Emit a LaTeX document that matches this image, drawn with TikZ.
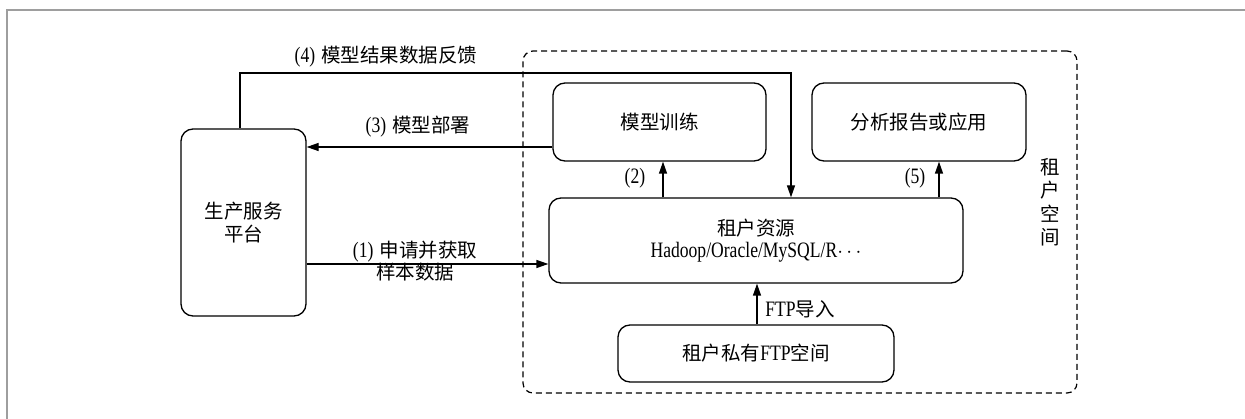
\documentclass[tikz,border=0pt]{standalone}
\usepackage{fontspec}
\setmainfont{Liberation Serif}[FakeStretch=0.8]
\newfontfamily\cjk{Noto Sans CJK SC}
\newcommand{\zh}[1]{{\cjk\fontsize{19.5}{24}\selectfont #1}}
\usetikzlibrary{arrows.meta,calc}
\begin{document}
\begin{tikzpicture}[x=1pt,y=-1pt,
  box/.style={draw,line width=1.3pt,rounded corners=12pt,inner sep=0pt,align=center,
    font=\fontsize{22}{24}\selectfont},
  arr/.style={line width=1.3pt,-{Triangle[length=12pt,width=8pt]}},
  lbl/.style={inner sep=0pt,align=center,font=\fontsize{22}{24}\selectfont}]
\useasboundingbox (0,0) rectangle (1245,419);
% outer gray frame
\draw[line width=2pt,color=black!38] (6.5,419) -- (6.5,10) -- (1245,10);
% tenant space (dashed)
\node[draw,dash pattern=on 6pt off 4pt,line width=1.2pt,rounded corners=10pt,minimum width=554pt,minimum height=342pt,inner sep=0pt] (space) at (800,222) {};
\node[lbl] (spacelbl) at (1050,202) {\zh{租}\\[-0.5pt]\zh{户}\\[-0.5pt]\zh{空}\\[-0.5pt]\zh{间}};
% nodes
\node[box,minimum width=125pt,minimum height=187pt] (plat) at (243.5,222.5) {\zh{生产服务}\\[-1pt]\zh{平台}};
\node[box,minimum width=213pt,minimum height=78pt] (train) at (659.5,122) {\zh{模型训练}};
\node[box,minimum width=214pt,minimum height=78pt] (ana) at (919,122) {\zh{分析报告或应用}};
\node[box,minimum width=414pt,minimum height=85pt] (res) at (756,240.5) {\zh{租户资源}\\[-2pt]Hadoop/Oracle/MySQL/R$\cdots$};
\node[box,minimum width=276pt,minimum height=57pt] (ftp) at (756,353.5) {\zh{租户私有}FTP\zh{空间}};
% connectors
\coordinate (c4) at (791,73);
\draw[arr] ([xshift=-3.5pt]plat.north) |- (c4) -- (c4 |- res.north);
\draw[arr] ([yshift=-25pt]train.west) -- ([yshift=-25pt]train.west -| plat.east);
\draw[arr] ([yshift=-23.5pt]res.west -| plat.east) -- ([yshift=-23.5pt]res.west);
\draw[arr] ([xshift=3.5pt]train.south |- res.north) -- ([xshift=3.5pt]train.south);
\draw[arr] ([xshift=20pt]ana.south |- res.north) -- ([xshift=20pt]ana.south);
\draw[arr] ([xshift=1pt]ftp.north) -- ([xshift=1pt]ftp.north |- res.south);
% labels
\node[lbl] (l4) at (386,57) {(4)\hspace{6pt}\zh{模型结果数据反馈}};
\node[lbl] (l3) at (418,127) {(3)\hspace{6pt}\zh{模型部署}};
\node[lbl] (l1) at (415,261) {(1)\hspace{6pt}\zh{申请并获取}\\[-2pt]\zh{样本数据}};
\node[lbl] (l2) at (635,178) {(2)};
\node[lbl] (l5) at (915,178) {(5)};
\node[lbl] (lftp) at (800,309) {FTP\zh{导入}};
\end{tikzpicture}
\end{document}
